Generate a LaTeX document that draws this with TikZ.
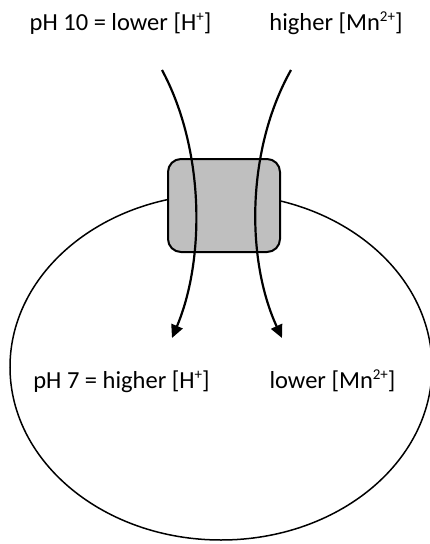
\documentclass[tikz,border=0pt]{standalone}
\usepackage{fontspec}
\setmainfont{Carlito}
\usetikzlibrary{arrows.meta,shapes.geometric}
\newcommand{\mysup}[1]{\raisebox{0.36em}{\fontsize{15}{15}\selectfont #1}}
\begin{document}
\begin{tikzpicture}[x=1pt,y=-1pt,
  lbl/.style={font=\fontsize{24.5}{29}\selectfont, inner sep=0pt, anchor=base},
  flow/.style={line width=2.2pt, -{Triangle[length=13pt,width=12pt]}}]
\useasboundingbox (0,0) rectangle (430,544);
\node[ellipse, draw, line width=1.5pt, minimum width=422pt, minimum height=346pt, inner sep=0pt] (cell) at (221,367) {};
\node[draw, line width=2pt, rounded corners=13pt, fill={rgb,255:red,191;green,191;blue,191}, minimum width=112pt, minimum height=93pt, inner sep=0pt] (pump) at (224,205.5) {};
\node[lbl] (t1) at (120.5,30) {pH 10 = lower [H\mysup{+}]};
\node[lbl] (t2) at (336,30) {higher [Mn\mysup{2+}]};
\node[lbl] (t3) at (121.5,388) {pH 7 = higher [H\mysup{+}]};
\node[lbl] (t4) at (332.5,388) {lower [Mn\mysup{2+}]};
\coordinate (a1) at (162,70);
\coordinate (b1) at (172,338);
\coordinate (a2) at (291,70);
\coordinate (b2) at (282,338);
\draw[flow] (a1) .. controls (205,150) and (205,260) .. (b1);
\draw[flow] (a2) .. controls (246,150) and (246,260) .. (b2);
\end{tikzpicture}
\end{document}
